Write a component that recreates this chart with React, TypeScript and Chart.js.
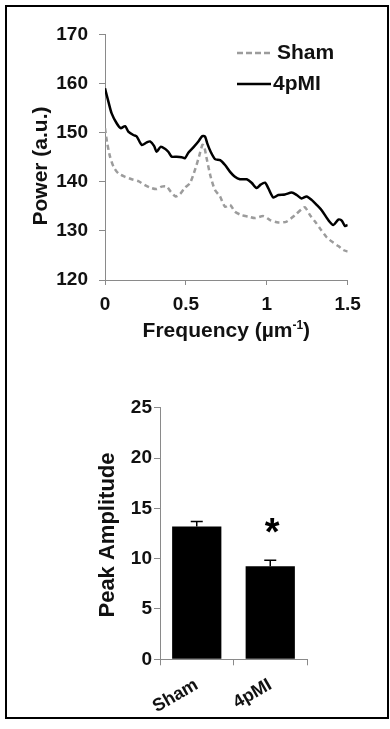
import { useEffect, useRef } from 'react';
import { Chart, registerables } from 'chart.js';

Chart.register(...registerables);

// ---------- Top chart data: power spectrum ----------
const shamFreq = [0, 0.014, 0.031, 0.052, 0.082, 0.124, 0.165, 0.206, 0.247, 0.288, 0.319, 0.35, 0.381, 0.406, 0.437, 0.464, 0.494, 0.525, 0.556, 0.581, 0.602, 0.612, 0.628, 0.653, 0.68, 0.711, 0.742, 0.773, 0.803, 0.845, 0.886, 0.927, 0.979, 1.02, 1.071, 1.123, 1.174, 1.215, 1.236, 1.267, 1.298, 1.329, 1.37, 1.411, 1.442, 1.473, 1.5];
const shamPower = [150.9, 147.8, 145.1, 143.1, 141.7, 141.0, 140.5, 140.1, 139.3, 138.7, 138.5, 139.0, 139.0, 138.0, 137.0, 137.5, 138.8, 139.7, 142.4, 145.1, 147.5, 147.3, 144.8, 141.0, 138.3, 137.0, 134.9, 135.3, 133.9, 133.2, 132.9, 132.6, 133.0, 132.2, 131.7, 131.9, 133.2, 134.4, 134.8, 133.2, 131.9, 130.5, 128.7, 127.6, 126.9, 126.1, 125.8];

const mpiFreq = [0, 0.021, 0.041, 0.072, 0.097, 0.124, 0.144, 0.175, 0.196, 0.227, 0.258, 0.278, 0.303, 0.319, 0.344, 0.371, 0.391, 0.412, 0.443, 0.474, 0.494, 0.515, 0.546, 0.577, 0.602, 0.618, 0.632, 0.653, 0.68, 0.711, 0.742, 0.773, 0.803, 0.834, 0.876, 0.906, 0.937, 0.962, 0.989, 1.009, 1.04, 1.071, 1.112, 1.154, 1.185, 1.215, 1.246, 1.277, 1.308, 1.339, 1.38, 1.411, 1.442, 1.463, 1.483, 1.5];
const mpiPower = [159.0, 156.3, 153.9, 151.9, 150.9, 151.3, 150.2, 149.5, 149.2, 147.5, 148.0, 148.2, 147.3, 146.1, 147.1, 146.7, 146.1, 145.1, 145.1, 145.0, 144.8, 145.9, 147.0, 148.2, 149.3, 149.2, 147.8, 146.1, 144.6, 144.4, 143.4, 142.0, 141.0, 140.5, 140.5, 139.8, 138.7, 139.4, 139.8, 138.7, 136.8, 137.3, 137.4, 137.8, 137.3, 136.6, 137.0, 136.3, 135.3, 134.2, 132.2, 131.2, 132.3, 132.1, 131.0, 131.2];

const seriesNames = ['Sham', '4pMI'];

// ---------- Bottom chart data: peak amplitude ----------
const groups = ['Sham', '4pMI'];
const peakAmplitude = [13.2, 9.25];
const peakError = [0.5, 0.6];
const significance = ['', '*'];

const FONT = '"Liberation Sans", Arial, Helvetica, sans-serif';
const AXIS_GRAY = '#8a8a8a';
const SHAM_GRAY = '#9c9c9c';

const topPlugin = {
  id: 'topDecor',
  afterDraw(chart: any) {
    const ctx = chart.ctx;
    const area = chart.chartArea;
    ctx.save();
    ctx.fillStyle = '#111';
    // y title
    ctx.font = `bold 21px ${FONT}`;
    ctx.textAlign = 'center';
    ctx.textBaseline = 'middle';
    ctx.save();
    ctx.translate(41.7, area.top + 131.7);
    ctx.rotate(-Math.PI / 2);
    ctx.fillText('Power (a.u.)', 0, 0);
    ctx.restore();
    // x title with superscript
    const main = 'Frequency (µm';
    const sup = '-1';
    const close = ')';
    ctx.font = `bold 21px ${FONT}`;
    const wMain = ctx.measureText(main).width;
    const wClose = ctx.measureText(close).width;
    ctx.font = `bold 12px ${FONT}`;
    const wSup = ctx.measureText(sup).width;
    const cx = (area.left + area.right) / 2;
    let x = cx - (wMain + wSup + wClose) / 2;
    const yBase = area.bottom + 57;
    ctx.textAlign = 'left';
    ctx.textBaseline = 'alphabetic';
    ctx.font = `bold 21px ${FONT}`;
    ctx.fillText(main, x, yBase);
    x += wMain;
    ctx.font = `bold 12px ${FONT}`;
    ctx.fillText(sup, x, yBase - 8);
    x += wSup;
    ctx.font = `bold 21px ${FONT}`;
    ctx.fillText(close, x, yBase);

    // legend
    const legendRows = [
      { y: 53, x0: 237, x1: 272, tx: 277, color: SHAM_GRAY, dash: [6, 3] },
      { y: 84, x0: 237, x1: 271, tx: 273, color: '#000', dash: [] as number[] },
    ];
    legendRows.forEach((r, i) => {
      ctx.beginPath();
      ctx.setLineDash(r.dash);
      ctx.strokeStyle = r.color;
      ctx.lineWidth = 2.5;
      ctx.moveTo(r.x0, r.y);
      ctx.lineTo(r.x1, r.y);
      ctx.stroke();
      ctx.setLineDash([]);
      ctx.font = `bold 21px ${FONT}`;
      ctx.textAlign = 'left';
      ctx.textBaseline = 'middle';
      ctx.fillStyle = '#111';
      ctx.fillText(seriesNames[i], r.tx, r.y);
    });
    ctx.restore();
  },
};

const bottomPlugin = {
  id: 'bottomDecor',
  afterDatasetsDraw(chart: any) {
    const ctx = chart.ctx;
    const meta = chart.getDatasetMeta(0);
    const yScale = chart.scales.y;
    ctx.save();
    meta.data.forEach((bar: any, i: number) => {
      const top = yScale.getPixelForValue(peakAmplitude[i] + peakError[i]);
      ctx.beginPath();
      ctx.strokeStyle = '#000';
      ctx.lineWidth = 1.5;
      ctx.moveTo(bar.x, bar.y);
      ctx.lineTo(bar.x, top);
      ctx.moveTo(bar.x - 6, top);
      ctx.lineTo(bar.x + 6, top);
      ctx.stroke();
      if (significance[i]) {
        ctx.font = `bold 38px ${FONT}`;
        ctx.fillStyle = '#000';
        ctx.textAlign = 'center';
        ctx.textBaseline = 'alphabetic';
        const m = ctx.measureText(significance[i]);
        const cy = top - 35;
        const base = cy + (m.actualBoundingBoxAscent - m.actualBoundingBoxDescent) / 2;
        ctx.fillText(significance[i], bar.x + 2, base);
      }
    });
    ctx.restore();
  },
  afterDraw(chart: any) {
    const ctx = chart.ctx;
    const area = chart.chartArea;
    ctx.save();
    ctx.fillStyle = '#111';
    ctx.font = `bold 22px ${FONT}`;
    ctx.textAlign = 'center';
    ctx.textBaseline = 'middle';
    ctx.translate(108, area.top + 127.3);
    ctx.rotate(-Math.PI / 2);
    ctx.fillText('Peak Amplitude', 0, 0);
    ctx.restore();
  },
};

export default function App() {
  const topRef = useRef<HTMLCanvasElement>(null);
  const bottomRef = useRef<HTMLCanvasElement>(null);

  useEffect(() => {
    const tickFont = { family: FONT, size: 19, weight: 'bold' as const };
    const top = new Chart(topRef.current as HTMLCanvasElement, {
      type: 'line',
      data: {
        datasets: [
          {
            label: seriesNames[0],
            data: shamFreq.map((x, i) => ({ x, y: shamPower[i] })),
            borderColor: SHAM_GRAY,
            borderWidth: 2.5,
            borderDash: [5, 3.5],
            pointRadius: 0,
            tension: 0.25,
            fill: false,
          },
          {
            label: seriesNames[1],
            data: mpiFreq.map((x, i) => ({ x, y: mpiPower[i] })),
            borderColor: '#000',
            borderWidth: 2.5,
            pointRadius: 0,
            tension: 0.25,
            fill: false,
          },
        ],
      },
      options: {
        responsive: false,
        animation: false,
        events: [],
        layout: { padding: { left: 0, right: 42.3, top: 34.3, bottom: 0 } },
        plugins: { legend: { display: false }, tooltip: { enabled: false } },
        scales: {
          x: {
            type: 'linear',
            min: 0,
            max: 1.5,
            ticks: {
              stepSize: 0.5,
              color: '#111',
              font: tickFont,
              padding: 8,
              maxRotation: 0,
              callback: (v: any) => String(Number(v)),
            },
            grid: { drawOnChartArea: false, drawTicks: true, tickLength: 5, color: AXIS_GRAY },
            border: { color: AXIS_GRAY, width: 1 },
            afterFit: (s: any) => { s.height = 80; },
          },
          y: {
            min: 120,
            max: 170,
            ticks: { stepSize: 10, color: '#111', font: tickFont, padding: 11 },
            grid: { drawOnChartArea: false, drawTicks: true, tickLength: 6, color: AXIS_GRAY },
            border: { color: AXIS_GRAY, width: 1 },
            afterFit: (s: any) => { s.width = 105; },
          },
        },
      },
      plugins: [topPlugin],
    });

    const bottom = new Chart(bottomRef.current as HTMLCanvasElement, {
      type: 'bar',
      data: {
        labels: groups,
        datasets: [
          {
            data: peakAmplitude,
            backgroundColor: '#000',
            borderWidth: 0,
            barPercentage: 0.67,
            categoryPercentage: 1,
          },
        ],
      },
      options: {
        responsive: false,
        animation: false,
        events: [],
        layout: { padding: { left: 0, right: 83, top: 47.7, bottom: 0 } },
        plugins: { legend: { display: false }, tooltip: { enabled: false } },
        scales: {
          x: {
            ticks: { color: '#111', font: { family: FONT, size: 18, weight: 'bold' }, minRotation: 30, maxRotation: 30, padding: 9 },
            grid: { offset: true, drawOnChartArea: false, drawTicks: true, tickLength: 6, color: AXIS_GRAY },
            border: { color: AXIS_GRAY, width: 1 },
            afterFit: (s: any) => { s.height = 69.7; },
          },
          y: {
            min: 0,
            max: 25,
            ticks: { stepSize: 5, color: '#111', font: tickFont, padding: 2 },
            grid: { drawOnChartArea: false, drawTicks: true, tickLength: 6, color: AXIS_GRAY },
            border: { color: AXIS_GRAY, width: 1 },
            afterFit: (s: any) => { s.width = 160; },
          },
        },
      },
      plugins: [bottomPlugin],
    });

    return () => {
      top.destroy();
      bottom.destroy();
    };
  }, []);

  return (
    <div style={{ position: 'absolute', left: 0, top: 0, width: 390, height: 729, background: '#fff', overflow: 'hidden' }}>
      <div
        style={{
          position: 'absolute',
          left: 5,
          top: 5,
          width: 384,
          height: 714,
          boxSizing: 'border-box',
          border: '2px solid #000',
        }}
      />
      <canvas ref={topRef} width={390} height={360} style={{ position: 'absolute', left: 0, top: 0 }} />
      <canvas ref={bottomRef} width={390} height={369} style={{ position: 'absolute', left: 0, top: 360 }} />
    </div>
  );
}
